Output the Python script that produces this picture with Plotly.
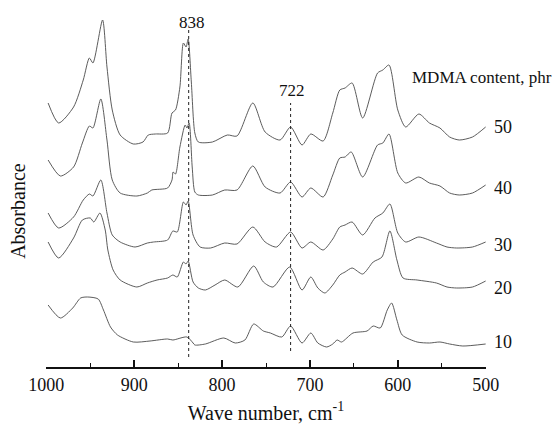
import plotly.graph_objects as go

# FTIR spectra of blends with different MDMA content (stacked, arbitrary absorbance units)
content_phr = [50, 40, 30, 20, 10]

wn_50 = [998, 986, 969, 958, 951, 947, 936, 931, 925, 916, 901, 890, 884, 876, 862, 857, 853,
         848, 844, 841, 838.6, 835, 831, 827, 811, 794, 783, 765, 751, 734, 722, 709, 699, 685,
         674, 666, 660, 652, 640, 623, 617, 610, 600, 591, 576, 564, 552, 541, 530, 515, 500]
abs_50 = [2.64, 2.44, 2.60, 2.87, 3.09, 3.04, 3.47, 3.00, 2.57, 2.32, 2.23, 2.25, 2.32, 2.33,
          2.34, 2.54, 2.57, 2.80, 3.24, 3.20, 3.28, 2.85, 2.34, 2.25, 2.25, 2.32, 2.31, 2.64,
          2.35, 2.27, 2.40, 2.22, 2.33, 2.26, 2.54, 2.77, 2.79, 2.84, 2.49, 2.94, 2.97, 3.02,
          2.57, 2.40, 2.53, 2.44, 2.39, 2.30, 2.27, 2.30, 2.40]

wn_40 = [998, 984, 969, 959, 951, 947, 938, 931, 925, 916, 897, 885, 880, 862, 857, 855.7, 853,
         848, 842, 840, 837.5, 834, 831, 827, 811, 797, 783, 765, 751, 734, 722, 709, 699, 685,
         674, 666, 660, 653, 640, 623, 617, 610, 600, 591, 576, 564, 552, 541, 530, 515, 500]
abs_40 = [2.07, 1.91, 2.00, 2.24, 2.41, 2.39, 2.68, 2.27, 1.87, 1.74, 1.71, 1.74, 1.77, 1.79,
          1.87, 1.95, 1.93, 2.20, 2.42, 2.39, 2.44, 2.00, 1.75, 1.72, 1.72, 1.77, 1.77, 2.01,
          1.80, 1.74, 1.85, 1.70, 1.79, 1.70, 1.92, 2.09, 2.10, 2.15, 1.90, 2.22, 2.24, 2.33,
          1.94, 1.84, 1.90, 1.84, 1.81, 1.74, 1.72, 1.74, 1.82]

wn_30 = [998, 986, 969, 958, 951, 947, 938, 931, 925, 916, 899, 885, 878, 862, 856, 851, 844,
         841, 838.6, 833, 825, 813, 797, 783, 765, 751, 738, 722, 709, 699, 685, 674, 666, 660,
         652, 640, 626, 617, 609, 600, 591, 576, 556, 544, 533, 515, 500]
abs_30 = [1.54, 1.39, 1.50, 1.67, 1.73, 1.71, 1.87, 1.54, 1.32, 1.25, 1.20, 1.24, 1.25, 1.27,
          1.36, 1.35, 1.65, 1.62, 1.66, 1.32, 1.20, 1.19, 1.24, 1.23, 1.40, 1.25, 1.20, 1.35,
          1.19, 1.25, 1.17, 1.28, 1.40, 1.42, 1.45, 1.32, 1.49, 1.54, 1.63, 1.34, 1.25, 1.30,
          1.24, 1.20, 1.19, 1.20, 1.25]

wn_20 = [998, 986, 969, 959, 950, 946, 939, 933, 930, 924, 916, 897, 885, 874, 862, 856, 851,
         844, 841, 838.6, 833, 827, 819, 808, 797, 782, 764, 753, 742, 723, 709, 699, 691, 683,
         674, 666, 660, 652, 640, 628, 618, 609, 601, 594, 578, 556, 544, 533, 515, 500]
abs_20 = [1.25, 1.09, 1.29, 1.47, 1.49, 1.45, 1.54, 1.37, 1.17, 0.97, 0.87, 0.80, 0.84, 0.87,
          0.89, 0.92, 0.90, 1.05, 1.03, 1.06, 0.85, 0.79, 0.77, 0.82, 0.87, 0.80, 1.01, 0.85,
          0.80, 1.00, 0.77, 0.90, 0.79, 0.74, 0.82, 0.92, 0.95, 0.99, 0.93, 1.05, 1.10, 1.36,
          1.07, 0.89, 0.87, 0.84, 0.80, 0.79, 0.80, 0.86]

wn_10 = [998, 984, 970, 961, 953, 941, 935, 927, 919, 901, 882, 862, 856, 840, 833, 831, 819,
         798, 785, 774, 764, 753, 745, 732, 722, 709, 699, 691, 681, 674, 669, 664, 651, 635,
         628, 620, 612, 607, 601, 595, 578, 564, 552, 541, 526, 500]
abs_10 = [0.62, 0.49, 0.59, 0.69, 0.70, 0.68, 0.57, 0.40, 0.32, 0.25, 0.26, 0.28, 0.27, 0.30,
          0.24, 0.22, 0.23, 0.29, 0.24, 0.27, 0.43, 0.36, 0.34, 0.30, 0.41, 0.24, 0.34, 0.24,
          0.20, 0.23, 0.27, 0.25, 0.34, 0.36, 0.41, 0.39, 0.57, 0.64, 0.47, 0.32, 0.25, 0.24,
          0.25, 0.23, 0.21, 0.23]

spectra = [(wn_50, abs_50), (wn_40, abs_40), (wn_30, abs_30), (wn_20, abs_20), (wn_10, abs_10)]

# level at which each content label sits, right of the spectrum end
label_levels = [2.40, 1.79, 1.22, 0.79, 0.25]

# marked bands (cm-1) and the vertical extent of their guide lines
bands = [838, 722]
band_top = [3.37, 2.64]
band_bottom = [0.10, 0.16]
band_label_y = [3.45, 2.77]
band_label_shift = [3, 1]

SERIF = "Liberation Serif, Times New Roman, serif"
INK = "#111111"

fig = go.Figure()

for (wn, ab) in spectra:
    fig.add_trace(go.Scatter(
        x=wn, y=ab, mode="lines",
        line=dict(color="#4a4a4a", width=0.9, shape="spline", smoothing=0.7),
        hoverinfo="skip", showlegend=False,
    ))

for b, top, bot, ly, sh in zip(bands, band_top, band_bottom, band_label_y, band_label_shift):
    fig.add_trace(go.Scatter(
        x=[b, b], y=[bot, top], mode="lines",
        line=dict(color="#222222", width=1, dash="dot"),
        hoverinfo="skip", showlegend=False,
    ))
    fig.add_annotation(x=b, y=ly, text=str(b), showarrow=False, xshift=sh,
                       xanchor="center", yanchor="middle",
                       font=dict(family=SERIF, size=17, color=INK))

# content labels sit just past the right end of the axis
for c, ly in zip(content_phr, label_levels):
    fig.add_annotation(xref="paper", yref="y", x=1.0136, y=ly, text=str(c), showarrow=False,
                       xanchor="left", yanchor="middle",
                       font=dict(family=SERIF, size=18, color=INK))

fig.add_annotation(x=586, y=2.90, text="MDMA content, phr", showarrow=False,
                   xanchor="left", yanchor="middle",
                   font=dict(family=SERIF, size=17, color=INK))

fig.add_annotation(xref="paper", yref="paper", x=-0.064, y=0.425, text="Absorbance",
                   textangle=-90, showarrow=False, xanchor="center", yanchor="middle",
                   font=dict(family=SERIF, size=20, color=INK))

fig.update_layout(
    width=557, height=429,
    margin=dict(l=46, r=71, t=0, b=62),
    paper_bgcolor="white", plot_bgcolor="white",
    font=dict(family=SERIF, color=INK),
    xaxis=dict(
        # a hair past 1000/500 so the end ticks are drawn too
        range=[1000.4, 499.6], showgrid=False, zeroline=False,
        showline=True, linecolor=INK, linewidth=2,
        ticks="inside", ticklen=7, tickwidth=1.5, tickcolor=INK,
        tick0=500, dtick=100, tickfont=dict(family=SERIF, size=18, color=INK),
        minor=dict(ticks="inside", ticklen=4, tickwidth=1.2, tickcolor=INK, dtick=50),
        title=dict(text="Wave number, cm<sup>-1</sup>", standoff=12,
                   font=dict(family=SERIF, size=20, color=INK)),
    ),
    yaxis=dict(
        range=[0, 3.67], showgrid=False, zeroline=False, showline=False,
        showticklabels=False, ticks="",
    ),
)

fig.write_html("out.html")
